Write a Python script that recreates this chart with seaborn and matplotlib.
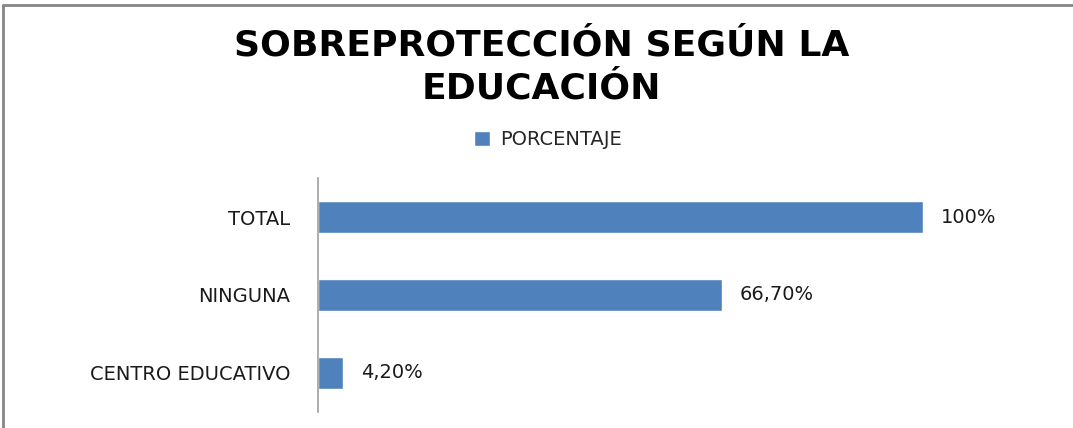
import matplotlib
matplotlib.use('Agg')
import matplotlib.pyplot as plt
import seaborn as sns
import pandas as pd
from matplotlib.lines import Line2D

# Datos del gráfico
categorias = ['TOTAL', 'NINGUNA', 'CENTRO EDUCATIVO']
porcentajes = [100, 66.7, 4.2]
etiquetas = ['100%', '66,70%', '4,20%']
serie = 'PORCENTAJE'

df = pd.DataFrame({'categoria': categorias, 'valor': porcentajes})

sns.set_style('white')
plt.rcParams['font.family'] = ['DejaVu Sans']

fig = plt.figure(figsize=(10.73, 4.28), dpi=100)
ax = fig.add_axes([318 / 1073, 16 / 428, 726 / 1073, 234 / 428])

sns.barplot(data=df, y='categoria', x='valor', color='#4F81BD', width=0.4,
            saturation=1, label=serie, ax=ax)

ax.set_xlim(0, 120)
ax.set_ylim(2.5, -0.5)
ax.set_xlabel('')
ax.set_ylabel('')
ax.set_xticks([])
ax.tick_params(axis='y', length=0, pad=20, labelsize=14, labelcolor='#1a1a1a')
for s in ['top', 'right', 'bottom']:
    ax.spines[s].set_visible(False)
ax.spines['left'].set_color('#a0a0a0')
ax.spines['left'].set_linewidth(1.2)

# Etiquetas de valores
for i, (v, t) in enumerate(zip(porcentajes, etiquetas)):
    ax.text(v + 3, i, t, va='center', ha='left', fontsize=14, color='#1a1a1a')

# Título
fig.text(0.505, 1 - 67 / 428, 'SOBREPROTECCIÓN SEGÚN LA\nEDUCACIÓN',
         ha='center', va='center', fontsize=26, fontweight='bold',
         linespacing=1.3, color='black')

# Leyenda
ax.legend(loc='center', bbox_to_anchor=(548 / 1073, 1 - 140 / 428),
          bbox_transform=fig.transFigure, frameon=False, fontsize=14,
          handlelength=0.8, handleheight=0.8, handletextpad=0.5)

# Marco exterior
fig.add_artist(Line2D([3 / 1073, 3 / 1073], [0, 1 - 5 / 428], transform=fig.transFigure,
                      color='#868686', linewidth=2))
fig.add_artist(Line2D([3 / 1073, 1], [1 - 5 / 428, 1 - 5 / 428], transform=fig.transFigure,
                      color='#868686', linewidth=2))

fig.savefig('out.png', dpi=100)
